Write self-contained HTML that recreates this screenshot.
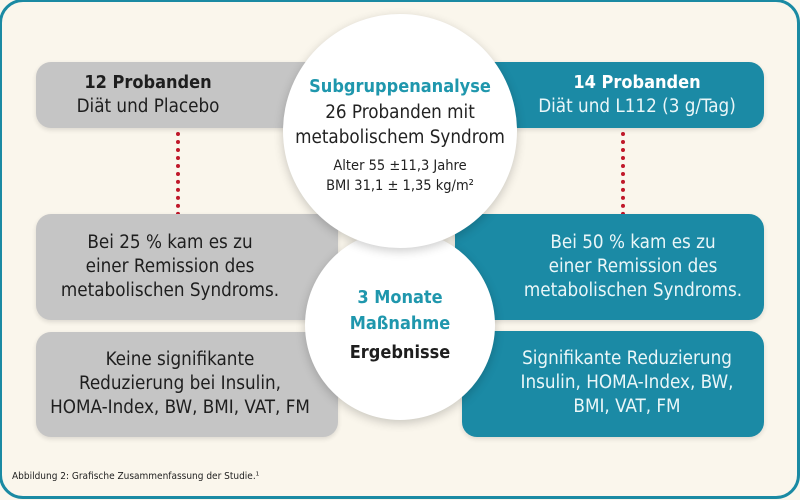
<!DOCTYPE html>
<html><head><meta charset="utf-8"><style>
*{margin:0;padding:0;box-sizing:border-box}
body{width:800px;height:500px;overflow:hidden;background:#fff;font-family:"DejaVu Sans Condensed","Liberation Sans",sans-serif}
#bg{position:absolute;left:0;top:0;width:800px;height:500px;background:#faf6ec}
#frame{position:absolute;left:-1px;top:-1px;width:801px;height:500px;border:3px solid #1a8aa3;border-radius:24px}
.b{position:absolute;border-radius:15px;text-align:center;font-size:18.7px;line-height:24px;box-shadow:0 2px 5px rgba(0,0,0,0.12)}
.g{background:#c5c5c5;color:#1e1e1e}
.t{background:#1b8aa5;color:#eaf6f8}
.c{position:absolute;border-radius:50%;background:#fff;box-shadow:0 3px 10px rgba(0,0,0,0.2);text-align:center}
.dot{position:absolute;width:4px;border-left:4px dotted #c0182a}
.tx{position:absolute;width:100%;text-align:center;white-space:nowrap}
.in{position:absolute;white-space:nowrap;text-align:center}
</style></head><body>
<div id="bg"></div>
<div id="frame"></div>
<div class="dot" style="left:176px;top:124px;height:92px"></div>
<div class="dot" style="left:621px;top:124px;height:92px"></div>
<div class="b g" style="left:36px;top:62px;width:300px;height:66px"><div class="in" style="left:12px;width:200px;top:9px"><b style="font-size:18px">12 Probanden</b><br>Diät und Placebo</div></div>
<div class="b t" style="left:470px;top:62px;width:294px;height:66px"><div class="in" style="left:37px;width:260px;top:9px"><b style="color:#fff;font-size:18px">14 Probanden</b><br>Diät und L112 (3 g/Tag)</div></div>
<div class="b g" style="left:36px;top:214px;width:302px;height:106px"><div class="in" style="left:-16px;width:300px;top:17px">Bei 25 % kam es zu<br>einer Remission des<br>metabolischen Syndroms.</div></div>
<div class="b t" style="left:455px;top:214px;width:309px;height:106px"><div class="in" style="left:28px;width:300px;top:17px">Bei 50 % kam es zu<br>einer Remission des<br>metabolischen Syndroms.</div></div>
<div class="b g" style="left:36px;top:332px;width:302px;height:105px"><div class="in" style="left:-6px;width:300px;top:16px">Keine signifikante<br>Reduzierung bei Insulin,<br>HOMA-Index, BW, BMI, VAT, FM</div></div>
<div class="b t" style="left:462px;top:331px;width:302px;height:106px"><div class="in" style="left:15px;width:300px;top:16px">Signifikante Reduzierung<br>Insulin, HOMA-Index, BW,<br>BMI, VAT, FM</div></div>
<div class="c" style="left:305px;top:230px;width:190px;height:190px">
<div class="tx" style="top:55px;font-size:18px;line-height:26px;color:#1f97ad;font-weight:bold">3 Monate<br>Maßnahme</div>
<div class="tx" style="top:112px;font-size:18px;font-weight:bold;color:#1e1e1e">Ergebnisse</div>
</div>
<div class="c" style="left:283px;top:14px;width:234px;height:234px">
<div class="tx" style="top:62px;font-size:18px;font-weight:bold;color:#1f97ad">Subgruppenanalyse</div>
<div class="tx" style="top:86px;font-size:18.7px;line-height:25px;color:#222">26 Probanden mit<br>metabolischem Syndrom</div>
<div class="tx" style="top:142px;font-size:14.5px;line-height:20px;color:#222">Alter 55 ±11,3 Jahre<br>BMI 31,1 ± 1,35 kg/m²</div>
</div>
<div style="position:absolute;left:12px;top:471px;font-size:10px;color:#222">Abbildung 2: Grafische Zusammenfassung der Studie.¹</div>
</body></html>
